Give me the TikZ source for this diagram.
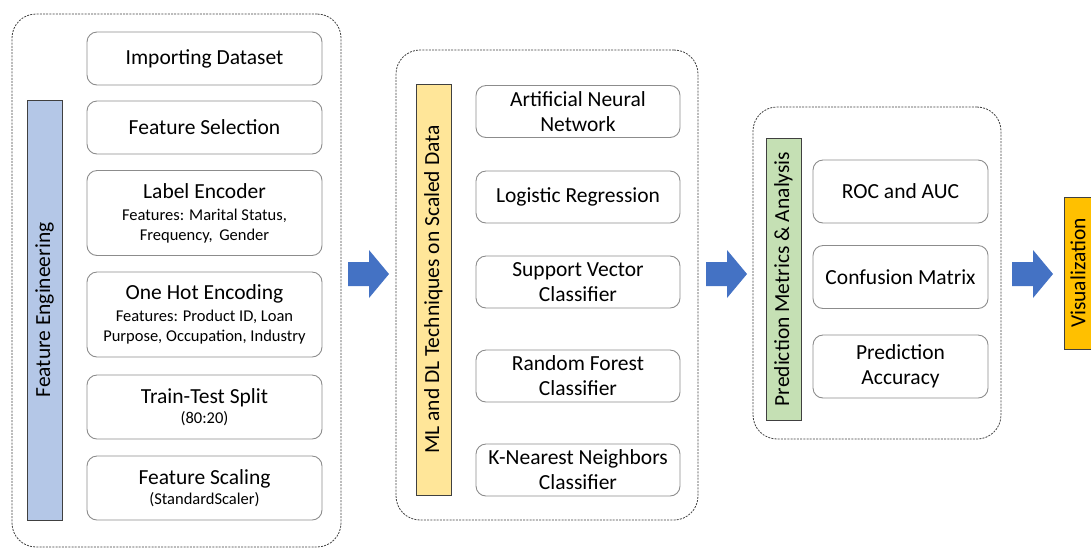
\documentclass[tikz,border=0pt]{standalone}
\usepackage{fontspec}
\setmainfont{Carlito}

\definecolor{barblue}{HTML}{B4C7E7}
\definecolor{baryellow}{HTML}{FFE699}
\definecolor{bargreen}{HTML}{C5E0B4}
\definecolor{vizorange}{HTML}{FFC000}
\definecolor{arrowblue}{HTML}{4472C4}
\definecolor{boxgray}{HTML}{8C8C8C}
\definecolor{linegray}{HTML}{404040}

\tikzset{
    group/.style={draw=linegray, dash pattern=on 2pt off 1.2pt, line width=0.8pt,
        rounded corners=24pt, inner sep=0pt},
    stepbox/.style={draw=boxgray, line width=0.9pt, rounded corners=10pt, fill=white,
        align=center, inner sep=0pt, font=\fontsize{21.5}{25}\selectfont},
    bar/.style={draw=linegray, line width=1pt, rotate=90, inner sep=0pt,
        minimum height=35pt, font=\fontsize{21.5}{25}\selectfont},
    bigarrow/.style={fill=arrowblue}
}
\newcommand{\smalltxt}[1]{{\fontsize{16.5}{19}\selectfont #1}}

\begin{document}
\begin{tikzpicture}[x=1pt, y=-1pt]
    \clip (0,0) rectangle (1091,550);

    % groups
    \node[group, minimum width=329pt, minimum height=533pt] (g1) at (176.5,280.5) {};
    \node[group, minimum width=302pt, minimum height=470pt] (g2) at (547,285) {};
    \node[group, minimum width=248pt, minimum height=332pt] (g3) at (877,273) {};

    % feature engineering
    \node[bar, fill=barblue, minimum width=420pt] (fe) at (44.5,310) {Feature Engineering};
    \foreach \n/\y/\h/\t in {
        imp/58.5/53/{Importing Dataset},
        sel/127.5/53/{Feature Selection},
        lab/213/85/{Label Encoder\\[-3pt]\smalltxt{Features: Marital Status,}\\[-5pt]\smalltxt{Frequency,\, Gender}},
        ohe/314.5/85/{One Hot Encoding\\[-3pt]\smalltxt{Features: Product ID, Loan}\\[-5pt]\smalltxt{Purpose, Occupation, Industry}},
        tts/407/64/{Train-Test Split\\[-5pt]\smalltxt{(80:20)}},
        fsc/488/64/{Feature Scaling\\[-5pt]\smalltxt{(StandardScaler)}}}
        {\node[stepbox, minimum width=235pt, minimum height=\h pt] (\n) at (204.5,\y) {\t};}

    % models
    \node[bar, fill=baryellow, minimum width=411pt] (ml) at (433.5,289.5) {ML and DL Techniques on Scaled Data};
    \foreach \n/\y/\t in {
        ann/111.5/{Artificial Neural\\Network},
        lr/197/{Logistic Regression},
        svc/282/{Support Vector\\Classifier},
        rf/376/{Random Forest\\Classifier},
        knn/470/{K-Nearest Neighbors\\Classifier}}
        {\node[stepbox, minimum width=204pt, minimum height=52pt] (\n) at (578,\y) {\t};}

    % metrics
    \node[bar, fill=bargreen, minimum width=282pt] (pm) at (783.5,279) {Prediction Metrics \& Analysis};
    \foreach \n/\y/\t in {
        roc/191.5/{ROC and AUC},
        cm/277/{Confusion Matrix},
        acc/366.5/{Prediction\\Accuracy}}
        {\node[stepbox, minimum width=175pt, minimum height=63pt] (\n) at (900.5,\y) {\t};}

    % visualization
    \node[bar, fill=vizorange, minimum width=152pt, minimum height=28pt] (viz) at (1078,273) {Visualization};

    % arrows between the stages
    \foreach \n/\x in {a1/348, a2/706, a3/1012}
        {\fill[bigarrow] (\x,262) coordinate (\n) -- ++(21,0) -- ++(0,-12) -- ++(20,24)
            -- ++(-20,24) -- ++(0,-12) -- ++(-21,0) -- cycle;}
\end{tikzpicture}
\end{document}
